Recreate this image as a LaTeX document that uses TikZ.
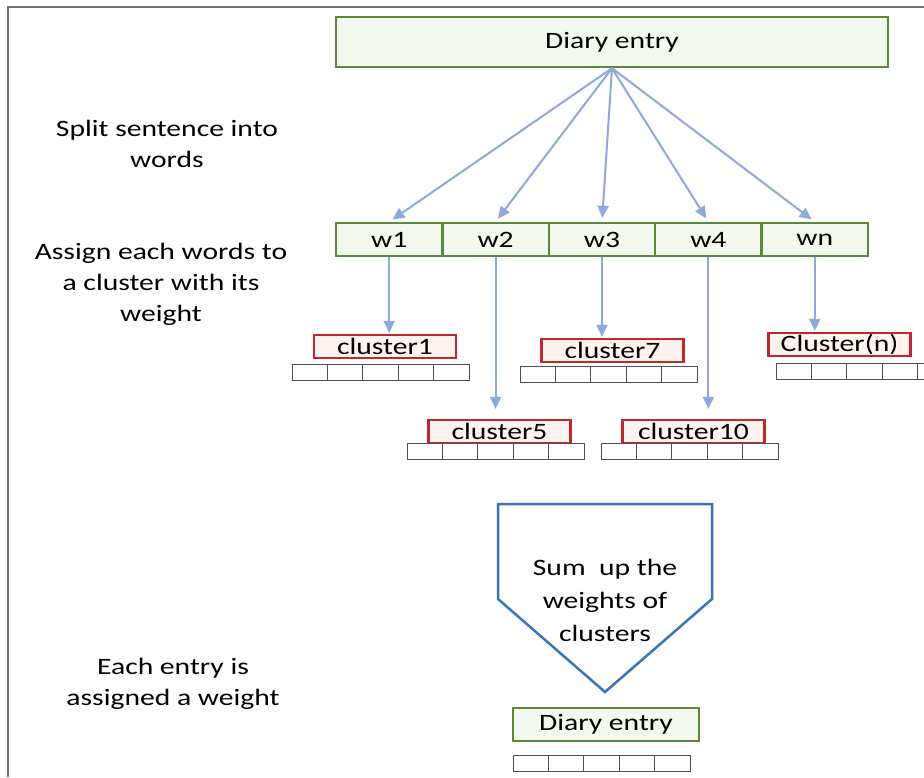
\documentclass[tikz,border=0pt]{standalone}
\usepackage{fontspec}
\setmainfont{Carlito}[FakeStretch=1.26]
\usetikzlibrary{arrows.meta}
\definecolor{entrygreen}{HTML}{5B8A3C}
\definecolor{entryfill}{HTML}{F4F9F0}
\definecolor{clusterred}{HTML}{C0282D}
\definecolor{clusterfill}{HTML}{FFF3F0}
\definecolor{flowblue}{HTML}{8EA9DB}
\definecolor{sumblue}{HTML}{3A75B5}
\definecolor{framegray}{HTML}{707070}
\definecolor{cellgray}{HTML}{505050}
\begin{document}
\begin{tikzpicture}[x=1pt,y=-1pt,
  font=\fontsize{23.5}{31}\selectfont,
  greenbox/.style={draw=entrygreen,fill=entryfill,line width=2.4pt,inner sep=0pt},
  redbox/.style={draw=clusterred,fill=clusterfill,line width=2.2pt,inner sep=0pt,
                 minimum width=142,minimum height=23},
  cellbox/.style={draw=cellgray,line width=1pt,fill=white},
  flow/.style={draw=flowblue,line width=2pt,-{Triangle[length=12pt,width=11pt]}},
  label/.style={align=center,text=black}]
\useasboundingbox (0,0) rectangle (924,777);
\fill[white] (0,0) rectangle (924,777);
% frame
\draw[framegray,line width=2pt] (8,777) -- (8,7) -- (924,7);

% side captions
\node[label] (cap1) at (167,144) {Split sentence into\\words};
\node[label] (cap2) at (161,284) {Assign each words to\\a cluster with its\\weight};
\node[label] (cap3) at (173,684) {Each entry is\\assigned a weight};

% the entry and its words
\node[greenbox,minimum width=552,minimum height=50] (top) at (612,42) {Diary entry};
\foreach \i/\t/\x in {1/w1/389.2,2/w2/495.6,3/w3/602,4/w4/708.4,5/wn/814.8}
  \node[greenbox,minimum width=106.4,minimum height=33] (w\i) at (\x,239.5) {\t};
\foreach \i in {1,...,5}
  \draw[flow,shorten >=4pt] (top.south) -- (w\i.north);

% clusters
\node[redbox] (c1) at (385,346.5) {cluster1};
\node[redbox] (c7) at (612.5,350.5) {cluster7};
\node[redbox] (cn) at (839.5,344.5) {Cluster(n)};
\node[redbox] (c5) at (499.5,431.5) {cluster5};
\node[redbox] (c10) at (693.5,431.5) {cluster10};

% weight vectors below each cluster
\foreach \x/\y in {292/364,520/366,776/363,407/443,601/443,513/755}
  \foreach \k in {0,...,4}
    \draw[cellbox] ({\x+35.4*\k},\y) rectangle ({\x+35.4*(\k+1)},{\y+16});

% word -> cluster
\draw[flow,shorten >=1pt] (w1.south) -- (w1.south |- c1.north);
\draw[flow,shorten >=10pt] (w2.south) -- (w2.south |- c5.north);
\draw[flow,shorten >=1pt] (w3.south) -- (w3.south |- c7.north);
\draw[flow,shorten >=10pt] (w4.south) -- (w4.south |- c10.north);
\draw[flow,shorten >=1pt] (w5.south) -- (w5.south |- cn.north);

% summation step
\draw[sumblue,line width=2.5pt,line join=miter]
  (498,504) -- (712,504) -- (712,599) -- (605,692) -- (498,599) -- cycle;
\node[label,font=\fontsize{23.5}{33}\selectfont] (sum) at (605,600) {Sum\ \ up the\\weights of\\clusters};

% resulting entry
\node[greenbox,minimum width=186,minimum height=33] (entry) at (606,724.5) {Diary entry};
\end{tikzpicture}
\end{document}
